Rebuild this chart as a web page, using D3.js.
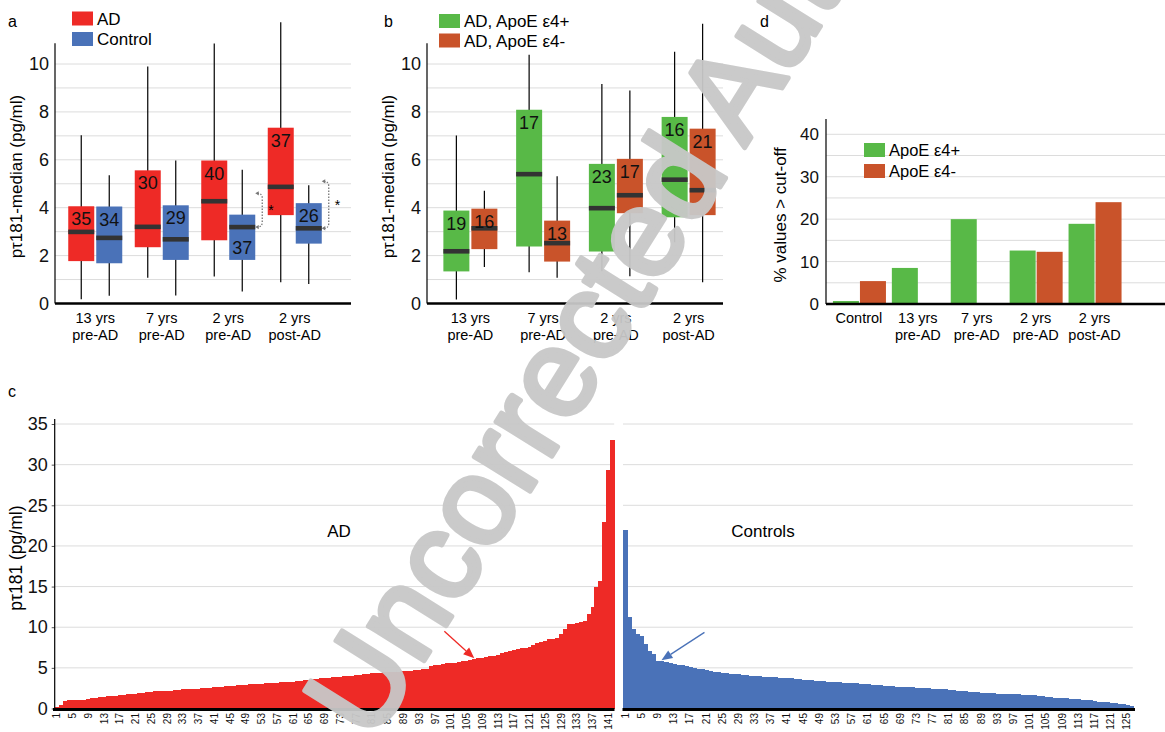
<!DOCTYPE html>
<html>
<head>
<meta charset="utf-8">
<script src="https://cdn.jsdelivr.net/npm/d3@7"></script>
<style>
  body { margin: 0; background: #fff; }
  svg { display: block; font-family: "Liberation Sans", Arial, Helvetica, sans-serif; }
</style>
</head>
<body>
<svg id="fig" width="1165" height="732"></svg>
<script>
// ---- data ----
const timeCats = ["13 yrs|pre-AD", "7 yrs|pre-AD", "2 yrs|pre-AD", "2 yrs|post-AD"];

// box stats: [min, q1, median, q3, max]
const adBoxes   = [[0.18, 1.77, 2.99, 4.06, 7.02], [1.07, 2.35, 3.20, 5.56, 9.90], [1.13, 2.64, 4.27, 5.97, 10.86], [0.89, 3.69, 4.87, 7.34, 11.74]];
const ctrlBoxes = [[0.32, 1.68, 2.74, 4.05, 5.35], [0.33, 1.82, 2.68, 4.10, 5.97], [0.50, 1.82, 3.19, 3.71, 5.58], [0.81, 2.50, 3.14, 4.19, 4.94]];
const adN   = [35, 30, 40, 37];
const ctrlN = [34, 29, 37, 26];
// significance brackets (panel a): [category index, top value, bottom value]
const sigMarks = [[2, 4.6, 3.19], [3, 5.1, 3.14]];

const e4posBoxes = [[0.17, 1.34, 2.18, 3.88, 7.01], [1.31, 2.38, 5.40, 8.09, 10.39], [1.35, 2.17, 3.98, 5.83, 9.17], [2.56, 3.60, 5.17, 7.79, 10.51]];
const e4negBoxes = [[1.52, 2.27, 3.14, 3.96, 4.71], [1.07, 1.75, 2.52, 3.46, 5.31], [1.14, 3.77, 4.52, 6.04, 8.89], [0.89, 3.69, 4.73, 7.30, 11.68]];
const e4posN = [19, 17, 23, 16];
const e4negN = [16, 13, 17, 21];

const cutCats = ["Control", "13 yrs|pre-AD", "7 yrs|pre-AD", "2 yrs|pre-AD", "2 yrs|post-AD"];
const cutE4pos = [0.7, 8.5, 20.0, 12.6, 18.9];
const cutE4neg = [5.4, 0, 0, 12.3, 24.0];

// panel c: individual values sorted
const adValues = [
  0.2, 0.4, 0.95, 1.0, 1.0, 1.05, 1.1, 1.1, 1.2, 1.3,
  1.35, 1.4, 1.45, 1.5, 1.5, 1.55, 1.6, 1.7, 1.75, 1.8,
  1.8, 1.85, 1.9, 2.0, 2.05, 2.1, 2.1, 2.15, 2.15, 2.2,
  2.25, 2.3, 2.35, 2.4, 2.4, 2.45, 2.45, 2.5, 2.5, 2.55,
  2.6, 2.65, 2.7, 2.75, 2.8, 2.8, 2.85, 2.9, 2.95, 3.0,
  3.0, 3.05, 3.05, 3.1, 3.1, 3.15, 3.15, 3.2, 3.2, 3.25,
  3.3, 3.35, 3.4, 3.45, 3.5, 3.6, 3.65, 3.7, 3.75, 3.8,
  3.85, 3.85, 3.9, 3.95, 4.0, 4.05, 4.1, 4.15, 4.25, 4.3,
  4.35, 4.4, 4.4, 4.45, 4.5, 4.5, 4.55, 4.55, 4.6, 4.65,
  4.65, 4.7, 4.75, 4.8, 4.85, 5.2, 5.3, 5.35, 5.5, 5.55,
  5.6, 5.65, 5.7, 5.8, 5.9, 5.95, 6.05, 6.2, 6.25, 6.3,
  6.4, 6.5, 6.6, 6.8, 6.9, 7.1, 7.2, 7.3, 7.45, 7.5,
  7.6, 7.8, 8.0, 8.2, 8.35, 8.5, 8.6, 8.7, 9.2, 9.8,
  10.4, 10.4, 10.5, 10.6, 10.8, 11.6, 12.5, 14.9, 15.7, 22.9,
  29.3, 33.0
];
const ctrlValues = [
  21.9, 11.3, 9.8, 9.2, 8.9, 7.9, 7.1, 6.7, 5.9, 5.8,
  5.7, 5.6, 5.5, 5.4, 5.3, 5.2, 5.1, 5.0, 4.9, 4.8,
  4.75, 4.6, 4.5, 4.45, 4.4, 4.4, 4.3, 4.25, 4.2, 4.15,
  4.1, 4.0, 4.0, 3.95, 3.9, 3.9, 3.85, 3.85, 3.8, 3.8,
  3.75, 3.7, 3.65, 3.6, 3.55, 3.5, 3.45, 3.4, 3.4, 3.35,
  3.3, 3.25, 3.2, 3.2, 3.15, 3.15, 3.1, 3.1, 3.05, 3.0,
  3.0, 2.95, 2.9, 2.85, 2.8, 2.8, 2.75, 2.7, 2.7, 2.65,
  2.6, 2.6, 2.55, 2.55, 2.5, 2.5, 2.45, 2.45, 2.4, 2.35,
  2.3, 2.25, 2.2, 2.15, 2.1, 2.05, 2.0, 2.0, 1.95, 1.9,
  1.9, 1.85, 1.8, 1.8, 1.8, 1.8, 1.75, 1.75, 1.7, 1.7,
  1.65, 1.6, 1.55, 1.5, 1.45, 1.4, 1.35, 1.3, 1.3, 1.25,
  1.2, 1.15, 1.15, 1.1, 1.05, 1.0, 0.9, 0.85, 0.8, 0.75,
  0.7, 0.65, 0.6, 0.55, 0.45, 0.3
];
// arrows point at these sample ranks
const adArrowAt = 107;
const ctrlArrowAt = 10;

// ---- colours ----
const RED = "#ee2a26", BLUE = "#4a72b8", GREEN = "#58b947", ORANGE = "#c9532a";
const GRID = "#dcdcdc", MEDIAN = "#333333";

const svg = d3.select("#fig");

function panelLabel(x, y, t) {
  svg.append("text").attr("x", x).attr("y", y).attr("font-size", 16).text(t);
}

function catLabels(g, x, cats, y0) {
  cats.forEach(c => {
    const parts = c.split("|");
    const t = g.append("text")
      .attr("text-anchor", "middle")
      .attr("font-size", 14.5)
      .attr("x", x(c));
    parts.forEach((p, i) => {
      t.append("tspan").attr("x", x(c)).attr("y", y0 + i * 17).text(p);
    });
  });
}

function legend(g, x, y, items, fs, gap) {
  items.forEach((it, i) => {
    g.append("rect").attr("x", x).attr("y", y + i * gap).attr("width", 21).attr("height", 14).attr("fill", it.color);
    g.append("text").attr("x", x + 25).attr("y", y + i * gap + 13).attr("font-size", fs).text(it.label);
  });
}

// ---- box panels (a, b) ----
const boxY = d3.scaleLinear().domain([0, 10]).range([303.5, 64]);

function boxPanel(opts) {
  const g = svg.append("g");
  const x = d3.scaleBand().domain(timeCats).range(opts.range);
  const left = opts.axisX, right = opts.right;

  // grid every 1 unit
  g.selectAll(".grid").data(d3.range(1, 11)).enter().append("line")
    .attr("x1", left).attr("x2", right)
    .attr("y1", d => boxY(d)).attr("y2", d => boxY(d))
    .attr("stroke", GRID).attr("stroke-width", 1);

  // y axis labels
  const ax = g.append("g").attr("transform", `translate(${left},0)`)
    .call(d3.axisLeft(boxY).tickValues([0, 2, 4, 6, 8, 10]).tickSize(0).tickPadding(6));
  ax.select(".domain").remove();
  ax.selectAll("text").attr("font-size", 18).attr("font-family", null).attr("fill", "#111");
  g.append("line").attr("x1", left).attr("x2", left).attr("y1", boxY(0)).attr("y2", boxY(10.87))
    .attr("stroke", "#000").attr("stroke-width", 1.2);

  g.append("text")
    .attr("transform", `translate(${left - 33},${boxY(5.3)}) rotate(-90)`)
    .attr("text-anchor", "middle").attr("font-size", 17)
    .text("p\u03c4181-median (pg/ml)");

  const halfW = 26;
  opts.series.forEach((s, si) => {
    const off = si === 0 ? -halfW - 1 : 1;
    timeCats.forEach((c, i) => {
      const b = s.boxes[i];
      const cx = x(c) + x.bandwidth() / 2 + off;
      g.append("line").attr("x1", cx + halfW / 2).attr("x2", cx + halfW / 2)
        .attr("y1", boxY(b[0])).attr("y2", boxY(b[4]))
        .attr("stroke", "#000").attr("stroke-width", 1.2);
      g.append("rect").attr("x", cx).attr("width", halfW)
        .attr("y", boxY(b[3])).attr("height", boxY(b[1]) - boxY(b[3]))
        .attr("fill", s.color);
      g.append("rect").attr("x", cx).attr("width", halfW)
        .attr("y", boxY(b[2]) - 2.3).attr("height", 4.6)
        .attr("fill", MEDIAN);
      // n label: below top of box, or above bottom when median sits too close
      const roomTop = boxY(b[2]) - boxY(b[3]);
      const ly = roomTop < 16 ? boxY(b[1]) - 6 : boxY(b[3]) + 19;
      g.append("text").attr("x", cx + halfW / 2).attr("y", ly)
        .attr("text-anchor", "middle").attr("font-size", 18).attr("fill", "#111")
        .text(s.n[i]);
    });
  });

  // x axis
  g.append("line").attr("x1", left).attr("x2", right).attr("y1", boxY(0)).attr("y2", boxY(0))
    .attr("stroke", "#000").attr("stroke-width", 2.6);
  catLabels(g, c => x(c) + x.bandwidth() / 2, timeCats, 323);

  return { g, x, halfW };
}

const pa = boxPanel({
  range: [62, 328], axisX: 55, right: 351,
  series: [{ boxes: adBoxes, n: adN, color: RED }, { boxes: ctrlBoxes, n: ctrlN, color: BLUE }]
});
legend(pa.g, 72, 11.5, [{ label: "AD", color: RED }, { label: "Control", color: BLUE }], 17, 20.5);
panelLabel(8, 27, "a");

// significance brackets
sigMarks.forEach(m => {
  const c = timeCats[m[0]];
  const bx = pa.x(c) + pa.x.bandwidth() / 2 + 1 + pa.halfW + 7;
  const yt = boxY(m[1]), yb = boxY(m[2]);
  pa.g.append("path")
    .attr("d", `M${bx - 5},${yt} Q${bx},${yt} ${bx},${yt + 5} L${bx},${yb - 5} Q${bx},${yb} ${bx - 5},${yb}`)
    .attr("fill", "none").attr("stroke", "#777").attr("stroke-width", 1.3).attr("stroke-dasharray", "1.5,1.5");
  [yt, yb].forEach(yy => {
    pa.g.append("path").attr("d", `M${bx - 7},${yy} l3.5,-2.2 l0,4.4 z`).attr("fill", "#777");
  });
  pa.g.append("text").attr("x", bx + 6).attr("y", (yt + yb) / 2 + 5).attr("font-size", 14).text("*");
});

const pb = boxPanel({
  range: [434, 725], axisX: 427, right: 723,
  series: [{ boxes: e4posBoxes, n: e4posN, color: GREEN }, { boxes: e4negBoxes, n: e4negN, color: ORANGE }]
});
legend(pb.g, 439, 14, [{ label: "AD, ApoE \u03b54+", color: GREEN }, { label: "AD, ApoE \u03b54-", color: ORANGE }], 17, 19.5);
panelLabel(384, 27, "b");

// ---- panel d ----
(function () {
  const g = svg.append("g");
  const left = 826, right = 1165;
  const y = d3.scaleLinear().domain([0, 40]).range([304, 134.3]);
  const x = d3.scaleBand().domain(cutCats).range([829.5, 1124]);

  g.selectAll(".grid").data(d3.range(5, 45, 5)).enter().append("line")
    .attr("x1", left).attr("x2", right)
    .attr("y1", d => y(d)).attr("y2", d => y(d))
    .attr("stroke", GRID);
  const ax = g.append("g").attr("transform", `translate(${left},0)`)
    .call(d3.axisLeft(y).tickValues([0, 10, 20, 30, 40]).tickSize(0).tickPadding(7));
  ax.select(".domain").remove();
  ax.selectAll("text").attr("font-size", 17).attr("font-family", null).attr("fill", "#111");
  g.append("line").attr("x1", left).attr("x2", left).attr("y1", y(0)).attr("y2", y(43.6))
    .attr("stroke", "#000").attr("stroke-width", 1.2);

  const bw = 26;
  cutCats.forEach((c, i) => {
    const cx = x(c) + x.bandwidth() / 2;
    if (cutE4pos[i] > 0)
      g.append("rect").attr("x", cx - bw).attr("width", bw).attr("y", y(cutE4pos[i])).attr("height", y(0) - y(cutE4pos[i])).attr("fill", GREEN);
    if (cutE4neg[i] > 0)
      g.append("rect").attr("x", cx + 1).attr("width", bw).attr("y", y(cutE4neg[i])).attr("height", y(0) - y(cutE4neg[i])).attr("fill", ORANGE);
  });

  g.append("line").attr("x1", left).attr("x2", right).attr("y1", y(0)).attr("y2", y(0))
    .attr("stroke", "#000").attr("stroke-width", 2.6);
  catLabels(g, c => x(c) + x.bandwidth() / 2, cutCats, 323);

  g.append("text")
    .attr("transform", `translate(${left - 40},${y(21)}) rotate(-90)`)
    .attr("text-anchor", "middle").attr("font-size", 17)
    .text("% values > cut-off");

  legend(g, 864, 143, [{ label: "ApoE \u03b54+", color: GREEN }, { label: "ApoE \u03b54-", color: ORANGE }], 16.5, 21);
  panelLabel(760, 27, "d");
})();

// ---- panel c ----
(function () {
  const g = svg.append("g");
  const y = d3.scaleLinear().domain([0, 35]).range([708.5, 424]);
  const xa = d3.scaleBand().domain(d3.range(1, adValues.length + 1)).range([54.7, 614.2]).padding(0);
  const xc = d3.scaleBand().domain(d3.range(1, ctrlValues.length + 1)).range([623, 1132.8]).padding(0);

  function grid(x0, x1) {
    g.append("g").selectAll("line").data(d3.range(5, 40, 5)).enter().append("line")
      .attr("x1", x0).attr("x2", x1)
      .attr("y1", d => y(d)).attr("y2", d => y(d))
      .attr("stroke", GRID);
  }
  grid(54.7, 614.2);
  grid(623, 1132.8);

  function bars(x, vals, color) {
    g.append("g").attr("shape-rendering", "crispEdges")
      .selectAll("rect").data(vals).enter().append("rect")
      .attr("x", (d, i) => x(i + 1))
      .attr("width", x.bandwidth() + 1)
      .attr("y", d => y(d))
      .attr("height", d => y(0) - y(d))
      .attr("fill", color);
  }
  bars(xa, adValues, RED);
  bars(xc, ctrlValues, BLUE);

  // y axis
  const ax = g.append("g").attr("transform", "translate(54.7,0)")
    .call(d3.axisLeft(y).tickValues(d3.range(0, 40, 5)).tickSize(3).tickPadding(4));
  ax.select(".domain").remove();
  ax.selectAll("text").attr("font-size", 18).attr("font-family", null).attr("fill", "#111");
  ax.selectAll("line").attr("stroke", "#555");
  g.append("line").attr("x1", 54.7).attr("x2", 54.7).attr("y1", y(0)).attr("y2", y(35.6))
    .attr("stroke", "#000").attr("stroke-width", 1.2);

  // x axes + rotated rank labels
  function xAxis(x, n, x0, x1) {
    g.append("line").attr("x1", x0).attr("x2", x1).attr("y1", y(0) + 1).attr("y2", y(0) + 1)
      .attr("stroke", "#000").attr("stroke-width", 2.8);
    const ticks = d3.range(1, n + 1).filter(i => i % 4 === 1);
    g.append("g").selectAll("text").data(ticks).enter().append("text")
      .attr("transform", d => `translate(${x(d) + x.bandwidth() / 2 + 3.6},713) rotate(-90)`)
      .attr("text-anchor", "end").attr("font-size", 10).attr("fill", "#111")
      .text(d => d);
  }
  xAxis(xa, adValues.length, 53, 614.5);
  xAxis(xc, ctrlValues.length, 622.5, 1135);

  g.append("text").attr("x", 339).attr("y", 537).attr("text-anchor", "middle").attr("font-size", 17).text("AD");
  g.append("text").attr("x", 763).attr("y", 537).attr("text-anchor", "middle").attr("font-size", 17).text("Controls");

  g.append("text")
    .attr("transform", `translate(22,${y(18.5)}) rotate(-90)`)
    .attr("text-anchor", "middle").attr("font-size", 17.5)
    .text("p\u03c4181 (pg/ml)");

  // arrows
  function arrow(tx, ty, dx, dy, color) {
    const len = Math.hypot(dx, dy);
    const ux = -dx / len, uy = -dy / len;
    const bx = tx - ux * 11, by = ty - uy * 11;
    g.append("line").attr("x1", tx + dx).attr("y1", ty + dy).attr("x2", bx).attr("y2", by)
      .attr("stroke", color).attr("stroke-width", 1.3);
    g.append("path")
      .attr("d", `M${tx},${ty} L${bx - uy * 4.5},${by + ux * 4.5} L${bx + uy * 4.5},${by - ux * 4.5} Z`)
      .attr("fill", color);
  }
  arrow(xa(adArrowAt) + xa.bandwidth() / 2, y(adValues[adArrowAt - 1]) - 1, -30, -27, RED);
  arrow(xc(ctrlArrowAt) + xc.bandwidth() / 2, y(ctrlValues[ctrlArrowAt - 1]) - 1, 43, -28, BLUE);

  panelLabel(8, 397, "c");
})();

// ---- watermark ----
svg.append("text")
  .attr("transform", "translate(372,744) rotate(-58)")
  .attr("font-size", 124)
  .attr("fill", "#c8c8c8")
  .attr("stroke", "#c8c8c8")
  .attr("stroke-width", 5)
  .attr("stroke-linejoin", "round")
  .attr("opacity", 0.95)
  .text("Uncorrected Author Proof");
</script>
</body>
</html>
